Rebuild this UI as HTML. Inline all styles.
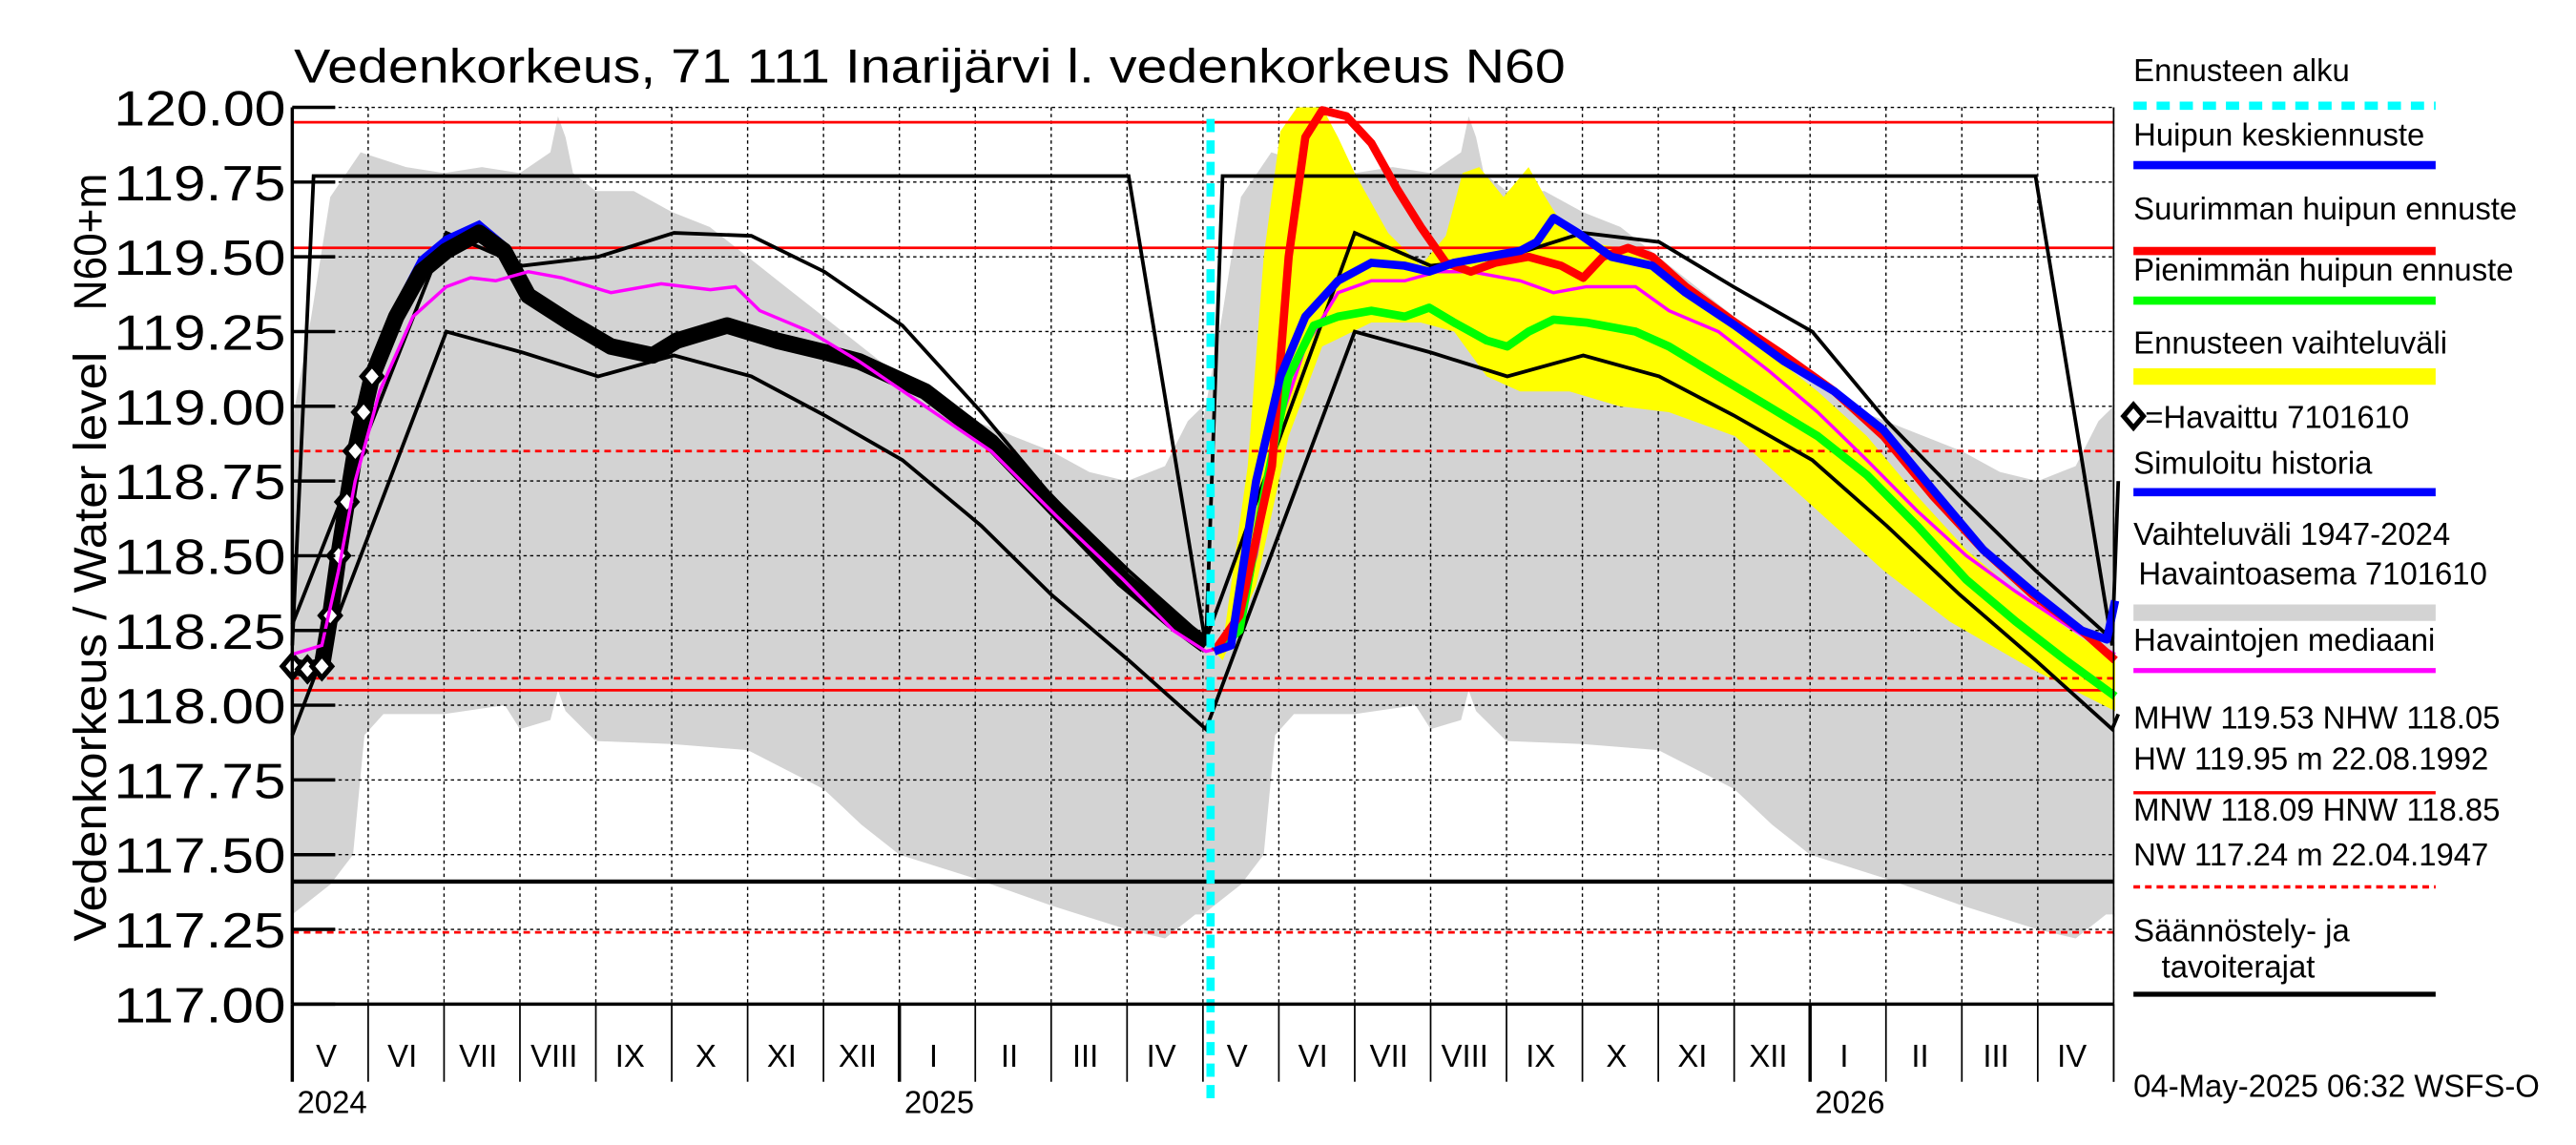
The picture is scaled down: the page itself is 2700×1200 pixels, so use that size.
<!DOCTYPE html>
<html><head><meta charset="utf-8"><style>
html,body{margin:0;padding:0;background:#fff;width:2700px;height:1200px;overflow:hidden}
svg{display:block}
text{font-family:"Liberation Sans",sans-serif;fill:#000}
</style></head><body>
<svg id="chart" xmlns="http://www.w3.org/2000/svg" width="2700" height="1200" viewBox="0 0 1560 693.3" preserveAspectRatio="none">
<g id="bg"></g>
<g id="marks"></g>
<g id="axes"></g>
<g id="legend"></g>
</svg>
<script>
// ---- data (x in months since 1 May 2024, y in m N60) ----
const yTicks = [120.00,119.75,119.50,119.25,119.00,118.75,118.50,118.25,118.00,117.75,117.50,117.25,117.00];
const monthLabels = ["V","VI","VII","VIII","IX","X","XI","XII","I","II","III","IV","V","VI","VII","VIII","IX","X","XI","XII","I","II","III","IV"];
const yearLabels = ["2024","2025","2026"];
const yearMonths = [0,8,20];
const histUpperM = [0,0.25,0.5,0.9,1.5,2,2.5,3.0,3.4,3.5,3.6,3.7,4,4.5,5,5.5,6,6.5,7,7.5,8,8.5,9,9.5,10,10.5,11,11.5,11.8,12];
const histUpperV = [118.95,119.3,119.7,119.85,119.8,119.78,119.8,119.78,119.85,119.97,119.9,119.78,119.72,119.72,119.65,119.6,119.5,119.4,119.3,119.2,119.1,119.0,118.95,118.9,118.85,118.78,118.75,118.8,118.95,119.0];
const histLowerM = [0,0.5,0.8,0.95,1.2,2,2.8,3.0,3.4,3.5,3.6,3.8,4,5,6,7,7.5,8,9,10,11,11.5,11.9,12];
const histLowerV = [117.3,117.4,117.5,117.9,117.97,117.97,118.0,117.92,117.95,118.05,117.98,117.93,117.88,117.87,117.85,117.72,117.6,117.5,117.42,117.33,117.25,117.22,117.3,117.3];
const medianM = [0,0.39,0.61,0.83,1.15,1.59,2.03,2.35,2.68,3.11,3.55,4.2,4.86,5.51,5.84,6.16,6.82,7.47,8.34,9.21,10.08,10.95,11.61,12.04,12.37,12.7,13.02,13.35,13.78,14.22,14.66,15.09,15.53,16.18,16.62,17.05,17.7,18.14,18.79,19.45,20.1,20.75,21.41,22.06,22.71,23.37,23.8,24.02];
const medianV = [118.17,118.2,118.45,118.75,119.05,119.3,119.4,119.43,119.42,119.45,119.43,119.38,119.41,119.39,119.4,119.32,119.25,119.15,119.0,118.85,118.63,118.42,118.25,118.18,118.2,118.5,118.95,119.2,119.38,119.42,119.42,119.45,119.45,119.42,119.38,119.4,119.4,119.32,119.25,119.12,118.98,118.82,118.65,118.5,118.38,118.27,118.2,118.17];
const obsM = [0,0.2,0.39,0.5,0.61,0.72,0.83,0.94,1.05,1.37,1.7,2.03,2.46,2.79,3.11,3.66,4.2,4.75,5.07,5.73,6.38,7.03,7.47,8.34,9.21,10.08,10.95,11.61,12.04];
const obsV = [118.13,118.12,118.13,118.3,118.5,118.68,118.85,118.98,119.1,119.3,119.45,119.52,119.58,119.52,119.37,119.28,119.2,119.17,119.22,119.27,119.22,119.18,119.15,119.05,118.88,118.65,118.42,118.28,118.2];
const yelUpM = [12.15,12.26,12.59,12.8,13.02,13.24,13.57,13.78,14.0,14.44,14.87,15.2,15.42,15.64,15.96,16.29,16.51,16.83,17.27,17.7,18.14,18.79,19.45,20.1,20.75,21.41,22.06,22.71,23.37,24.02];
const yelUpV = [118.18,118.2,118.8,119.5,119.92,120.0,120.0,119.9,119.78,119.58,119.47,119.57,119.78,119.8,119.7,119.8,119.7,119.57,119.54,119.52,119.44,119.32,119.18,119.05,118.9,118.7,118.52,118.38,118.26,118.15];
const yelLoM = [12.15,12.26,12.7,13.13,13.57,14.22,14.87,15.31,15.74,16.18,16.83,17.49,18.14,19.01,20.1,20.97,21.84,22.93,24.02];
const yelLoV = [118.18,118.15,118.4,118.9,119.2,119.28,119.28,119.25,119.1,119.05,119.05,119.0,118.98,118.9,118.65,118.45,118.28,118.12,117.98];
const redM = [12.15,12.48,12.91,13.13,13.35,13.57,13.89,14.22,14.55,14.87,15.2,15.53,15.85,16.29,16.72,17.01,17.27,17.6,17.92,18.36,19.01,19.66,20.32,20.97,21.62,22.28,22.93,23.58,24.02];
const redV = [118.18,118.3,118.8,119.5,119.9,119.99,119.97,119.88,119.73,119.6,119.48,119.45,119.48,119.5,119.47,119.43,119.5,119.53,119.5,119.4,119.28,119.17,119.05,118.9,118.7,118.52,118.37,118.25,118.15];
const blueM = [12.15,12.37,12.7,13.02,13.35,13.78,14.22,14.66,14.98,15.31,15.74,16.18,16.4,16.62,16.94,17.38,17.92,18.36,19.01,19.66,20.32,20.97,21.62,22.28,22.93,23.58,23.91,24.02];
const blueV = [118.18,118.2,118.75,119.1,119.3,119.42,119.48,119.47,119.45,119.48,119.5,119.52,119.55,119.63,119.58,119.5,119.47,119.38,119.27,119.15,119.05,118.92,118.72,118.52,118.38,118.25,118.22,118.35];
const greenM = [12.15,12.48,12.8,13.13,13.46,13.78,14.22,14.66,14.98,15.31,15.74,16.01,16.29,16.62,17.05,17.7,18.14,18.79,19.45,20.1,20.75,21.41,22.06,22.71,23.37,24.02];
const greenV = [118.18,118.25,118.7,119.1,119.27,119.3,119.32,119.3,119.33,119.28,119.22,119.2,119.25,119.29,119.28,119.25,119.2,119.1,119.0,118.9,118.77,118.6,118.42,118.28,118.15,118.03];
const simM = [1.05,1.37,1.7,2.03,2.46,2.79];
const simV = [119.12,119.33,119.49,119.56,119.61,119.54];
const regAM = [0,0.28,11.02,12.04,12.26,22.97,23.98,24.06];
const regAV = [118.2,119.77,119.77,118.2,119.77,119.77,118.2,118.75];
const regBM = [0,2.03,3.03,4.03,5.03,6.05,7.01,8.04,9.08,10.0,11.02,12.04,14.0,15.0,16.01,17.01,18.01,18.99,20.03,21.01,21.97,22.97,23.98];
const regBV = [118.27,119.58,119.47,119.5,119.58,119.57,119.45,119.27,118.98,118.7,118.45,118.22,119.58,119.47,119.5,119.58,119.55,119.4,119.25,118.95,118.7,118.45,118.22];
const regCM = [0,2.03,3.03,4.03,5.03,6.05,7.01,8.04,9.08,10.0,11.02,12.04,14.0,15.0,16.01,17.01,18.01,18.99,20.03,21.01,21.97,22.97,23.98,24.06];
const regCV = [117.9,119.25,119.18,119.1,119.17,119.1,118.97,118.82,118.6,118.37,118.15,117.92,119.25,119.18,119.1,119.17,119.1,118.97,118.82,118.6,118.37,118.15,117.92,117.97];
const regLevel = 117.41;
const redSolid = [119.95,119.53,118.05];
const redDashed = [118.85,118.09,117.24];
const forecastStart = 12.1;

// ---- scales ----
const X0=177, X1=1280, YT=65, YB=608;
const X = m => X0 + m*(X1-X0)/24;
const Y = v => YT + (120-v)*(YB-YT)/3;
const NS="http://www.w3.org/2000/svg";
function mk(tag, parent, at){const e=document.createElementNS(NS,tag);for(const k in at)e.setAttribute(k,at[k]);parent.appendChild(e);return e;}
const bg=document.getElementById('bg'), marks=document.getElementById('marks'), axes=document.getElementById('axes'), leg=document.getElementById('legend');
function pts(ms,vs,off){return ms.map((m,i)=>X(m+(off||0)).toFixed(1)+","+Y(vs[i]).toFixed(1)).join(" ");}

for(const off of [0,12]){
  const up=pts(histUpperM,histUpperV,off), lo=histLowerM.map((m,i)=>X(m+off).toFixed(1)+","+Y(histLowerV[i]).toFixed(1)).reverse().join(" ");
  const p=mk('polygon',bg,{points:up+" "+lo,fill:"#d3d3d3",stroke:"none"});
  
  
}
yTicks.forEach(v=>{const l=mk('line',bg,{x1:X0,x2:X1,y1:Y(v),y2:Y(v),stroke:"#000","stroke-width":0.8,"stroke-dasharray":"2,2"});
  
  });
for(let k=1;k<=24;k++){
  const l=mk('line',bg,{x1:X(k),x2:X(k),y1:YT,y2:YB,stroke:"#000","stroke-width":0.8,"stroke-dasharray":"2,2"});
  
  }
{const up=pts(yelUpM,yelUpV), lo=yelLoM.map((m,i)=>X(m).toFixed(1)+","+Y(yelLoV[i]).toFixed(1)).reverse().join(" ");
 const p=mk('polygon',marks,{points:up+" "+lo,fill:"#ffff00"});
 
 }
redSolid.forEach(v=>{const l=mk('line',marks,{x1:X0,x2:X1,y1:Y(v),y2:Y(v),stroke:"#ff0000","stroke-width":1.6});
  
  });
redDashed.forEach(v=>{const l=mk('line',marks,{x1:X0,x2:X1,y1:Y(v),y2:Y(v),stroke:"#ff0000","stroke-width":1.6,"stroke-dasharray":"4,3"});
  
  });
[[regAM,regAV],[regBM,regBV],[regCM,regCV]].forEach(([m,v])=>{const l=mk('polyline',marks,{points:pts(m,v),fill:"none",stroke:"#000","stroke-width":2.2});
  
  });
{const l=mk('line',marks,{x1:X0,x2:X1,y1:Y(regLevel),y2:Y(regLevel),stroke:"#000","stroke-width":2.5});
 
 }
{const l=mk('polyline',marks,{points:pts(simM,simV),fill:"none",stroke:"#0000ff","stroke-width":4});
 
 }
{const l=mk('polyline',marks,{points:pts(obsM,obsV),fill:"none",stroke:"#000","stroke-width":10,"stroke-linejoin":"round"});
 
 }
obsM.forEach((m,i)=>{if(m>1.1)return;const x=X(m),y=Y(obsV[i]);
  const d=mk('polygon',marks,{points:`${x-6},${y} ${x},${y-7} ${x+6},${y} ${x},${y+7}`,fill:"#fff",stroke:"#000","stroke-width":3});
  
  });
{const l=mk('polyline',marks,{points:pts(medianM,medianV),fill:"none",stroke:"#ff00ff","stroke-width":2});
 
 }
[[greenM,greenV,"#00ff00",'min-peak-forecast-line'],[redM,redV,"#ff0000",'max-peak-forecast-line'],[blueM,blueV,"#0000ff",'mean-peak-forecast-line']].forEach(([m,v,c,n])=>{
  const l=mk('polyline',marks,{points:pts(m,v),fill:"none",stroke:c,"stroke-width":5,"stroke-linejoin":"round"});
  
  });
{const l=mk('line',marks,{x1:X(forecastStart),x2:X(forecastStart),y1:72,y2:YB+58,stroke:"#00ffff","stroke-width":5,"stroke-dasharray":"8,5"});
 
 }

mk('line',axes,{x1:X0,x2:X0,y1:YT,y2:YB,stroke:"#000","stroke-width":2});
mk('line',axes,{x1:X0,x2:X1,y1:YB,y2:YB,stroke:"#000","stroke-width":2});
mk('line',axes,{x1:X1,x2:X1,y1:YT,y2:YB+47,stroke:"#000","stroke-width":1});
yTicks.forEach(v=>{
  mk('line',axes,{x1:X0,x2:X0+26,y1:Y(v),y2:Y(v),stroke:"#000","stroke-width":2});
  const t=mk('text',axes,{x:173,y:Y(v)+11,"text-anchor":"end","font-size":30,textLength:104,lengthAdjust:"spacingAndGlyphs"});
  t.textContent=v.toFixed(2);
  
  });
for(let k=0;k<=24;k++){const yr=yearMonths.includes(k);
  mk('line',axes,{x1:X(k),x2:X(k),y1:YB,y2:YB+47,stroke:"#000","stroke-width":yr?2:1});}
monthLabels.forEach((s,i)=>{const t=mk('text',axes,{x:X(i+0.45),y:646,"text-anchor":"middle","font-size":19});
  t.textContent=s;
  
  });
yearLabels.forEach((s,i)=>{const t=mk('text',axes,{x:X(yearMonths[i])+3,y:674,"font-size":19});
  t.textContent=s;
  
  });
{const t=mk('text',axes,{x:178,y:50,"font-size":29,textLength:770,lengthAdjust:"spacingAndGlyphs"});
 t.textContent="Vedenkorkeus, 71 111 Inarijärvi l. vedenkorkeus N60";
 
 }
{const t=mk('text',axes,{x:0,y:0,"font-size":28,transform:"translate(64,570) rotate(-90)",textLength:357,lengthAdjust:"spacingAndGlyphs"});
 t.textContent="Vedenkorkeus / Water level";
 
 }
{const t=mk('text',axes,{x:0,y:0,"font-size":28,transform:"translate(64,188) rotate(-90)",textLength:83,lengthAdjust:"spacingAndGlyphs"});
 t.textContent="N60+m";
 
 }

const LX=1292, LW=183;
function ltext(s,y,x){const t=mk('text',leg,{x:x||LX,y:y,"font-size":19});t.textContent=s;return t;}
function lline(y,c,w,dash){const l=mk('line',leg,{x1:LX,x2:LX+LW,y1:y,y2:y,stroke:c,"stroke-width":w});if(dash)l.setAttribute('stroke-dasharray',dash);}
ltext("Ennusteen alku",49); lline(64,"#00ffff",5,"8,6");
ltext("Huipun keskiennuste",88); lline(100,"#0000ff",5);
ltext("Suurimman huipun ennuste",133); lline(152,"#ff0000",5);
ltext("Pienimmän huipun ennuste",170); lline(182,"#00ff00",5);
ltext("Ennusteen vaihteluväli",214); lline(228,"#ffff00",10);
mk('polygon',leg,{points:"1286,252 1292,245 1298,252 1292,259",fill:"#fff",stroke:"#000","stroke-width":3});
ltext("=Havaittu 7101610",259,1299);
ltext("Simuloitu historia",287); lline(298,"#0000ff",5);
ltext("Vaihteluväli 1947-2024",330); ltext(" Havaintoasema 7101610",354,1295); lline(371,"#d3d3d3",10);
ltext("Havaintojen mediaani",394); lline(406,"#ff00ff",3);
ltext("MHW 119.53 NHW 118.05",441); ltext("HW 119.95 m 22.08.1992",466); lline(480,"#ff0000",2);
ltext("MNW 118.09 HNW 118.85",497); ltext("NW 117.24 m 22.04.1947",524); lline(537,"#ff0000",2,"4,3");
ltext("Säännöstely- ja",570); ltext("tavoiterajat",592,1309); lline(602,"#000",3);
{const t=ltext("04-May-2025 06:32 WSFS-O",664); }
</script>
</body></html>
